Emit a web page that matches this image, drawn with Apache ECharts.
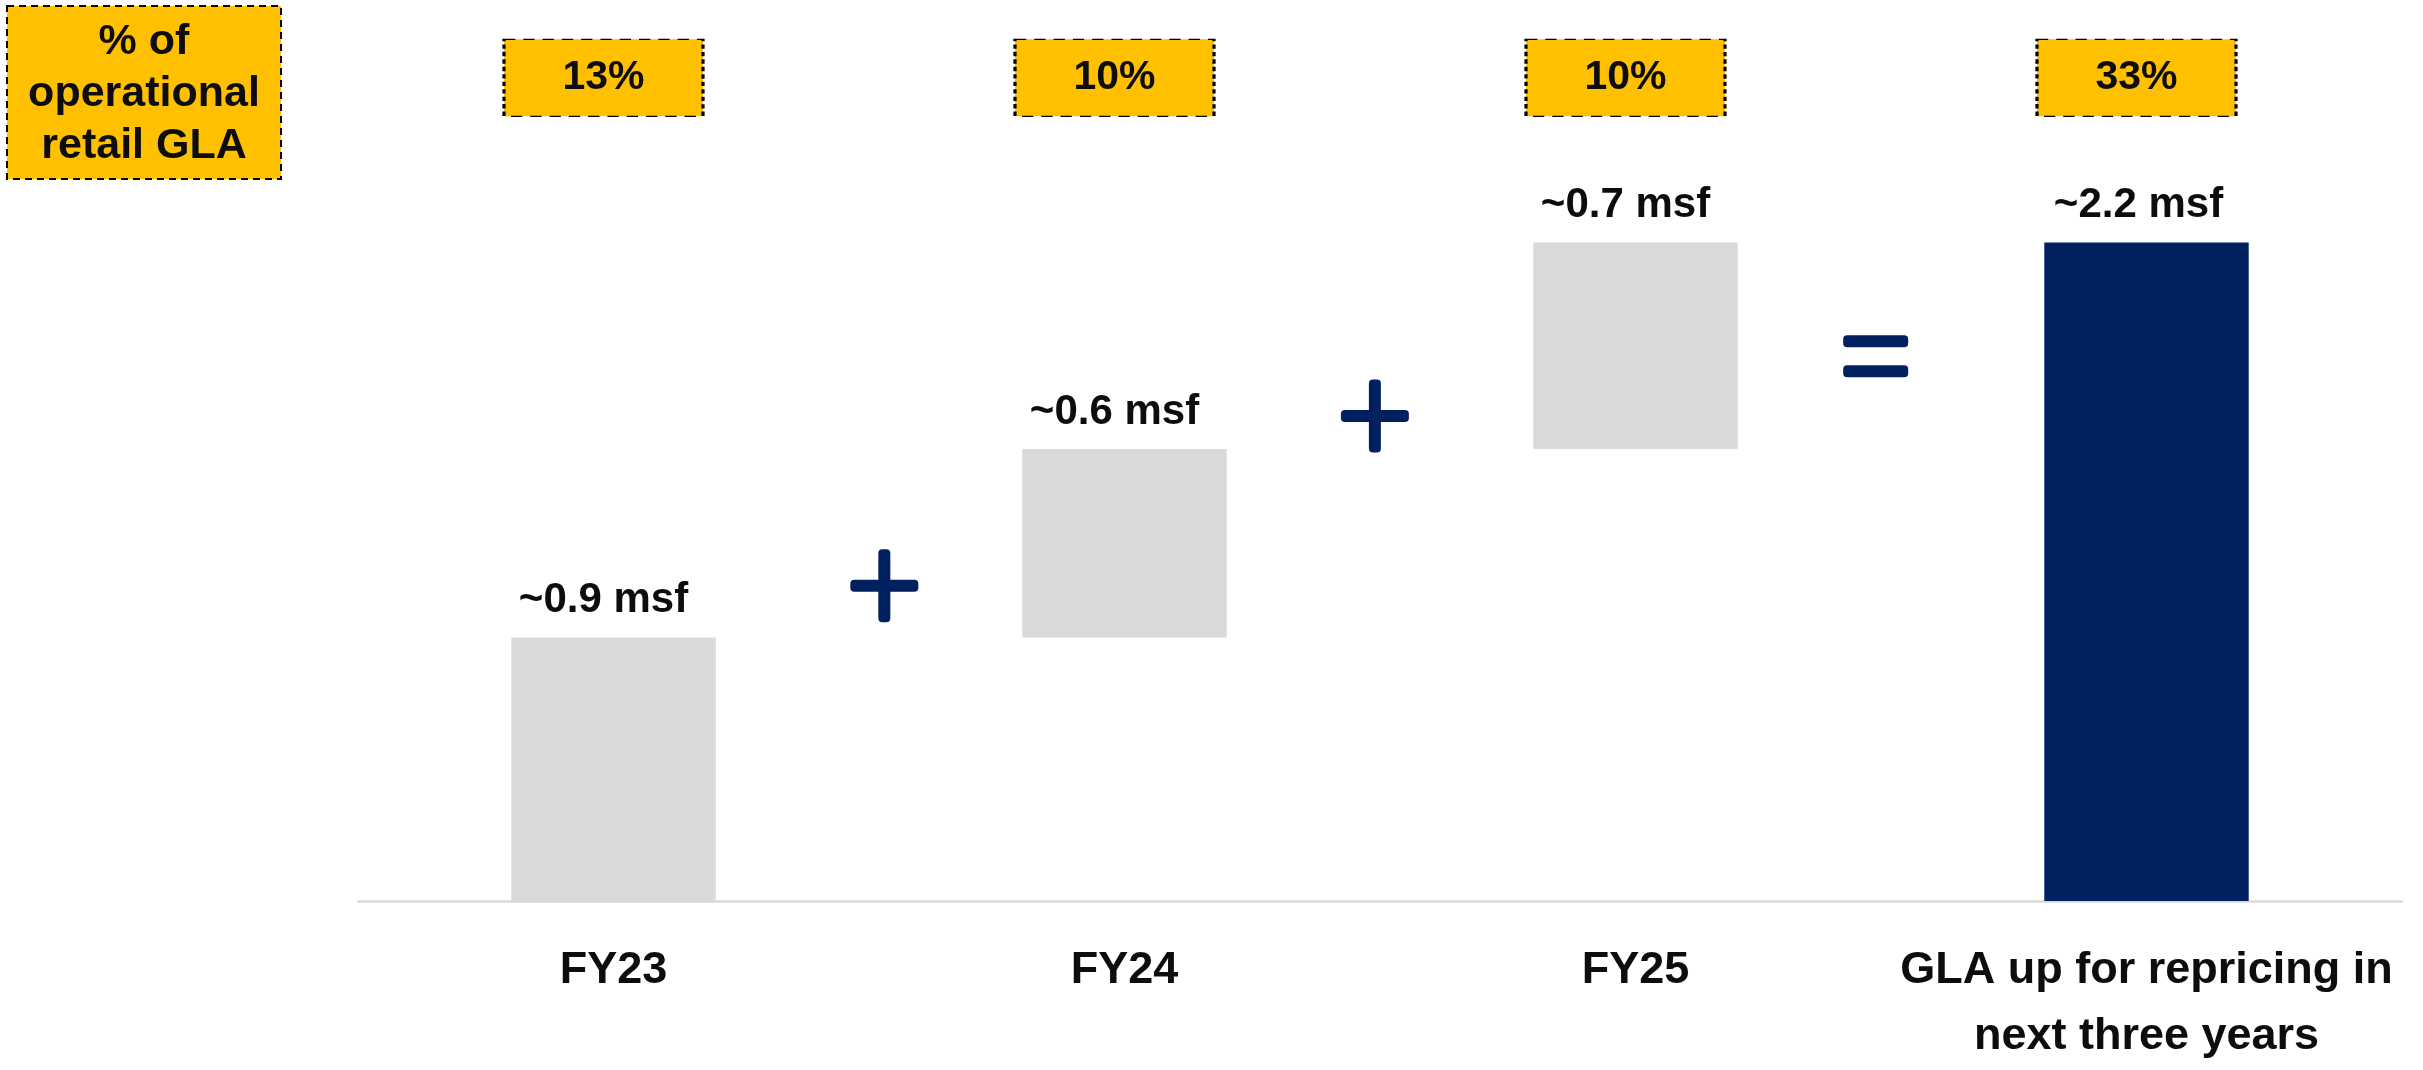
<!DOCTYPE html>
<html>
<head>
<meta charset="utf-8">
<script src="https://cdn.jsdelivr.net/npm/echarts@6/dist/echarts.min.js"></script>
<style>
  html, body { margin: 0; padding: 0; background: #ffffff; }
  #chart { width: 2423px; height: 1070px; }
</style>
</head>
<body>
<div id="chart"></div>
<script>
// ---- data ----
var categories = ['FY23', 'FY24', 'FY25', 'GLA up for repricing in\nnext three years'];
var stepValues = [0.88, 0.63, 0.69];          // msf
var totalValue = 2.2;                          // msf
var barLabels = ['~0.9 msf', '~0.6 msf', '~0.7 msf', '~2.2 msf'];
var shareLabels = ['13%', '10%', '10%', '33%'];
var shareRowLevel = 2.75;                      // y level of the % boxes
var plusMarks = [[0.53, 1.053], [1.49, 1.62]]; // between-bar operators
var equalsMarks = [[2.47, 1.82]];
var sideNote = '% of\noperational\nretail GLA';

// ---- derived series ----
var baseData = [];
var stepData = [];
var totalData = [];
var run = 0;
for (var i = 0; i < categories.length; i++) {
  if (i < stepValues.length) {
    baseData.push(run);
    stepData.push(stepValues[i]);
    totalData.push('-');
    run += stepValues[i];
  } else {
    baseData.push(0);
    stepData.push('-');
    totalData.push(totalValue);
  }
}
var shareData = categories.map(function (c, i) { return [i, shareRowLevel]; });

var FONT = '"Liberation Sans", Arial, sans-serif';
var NAVY = '#002060';
var GRAY = '#D9D9D9';
var GOLD = '#FFC000';

var PLUS_PATH = 'path://M28,4 Q28,0 32,0 H36 Q40,0 40,4 V30.5 H64 Q68,30.5 68,34.5 V38.5 Q68,42.5 64,42.5 H40 V69 Q40,73 36,73 H32 Q28,73 28,69 V42.5 H4 Q0,42.5 0,38.5 V34.5 Q0,30.5 4,30.5 H28 Z';
var EQUALS_PATH = 'path://M4,0 H61 Q65,0 65,4 V8 Q65,12 61,12 H4 Q0,12 0,8 V4 Q0,0 4,0 Z M4,30 H61 Q65,30 65,34 V38 Q65,42 61,42 H4 Q0,42 0,38 V34 Q0,30 4,30 Z';

var chart = echarts.init(document.getElementById('chart'), null, { renderer: 'canvas' });
chart.setOption({
  backgroundColor: '#ffffff',
  animation: false,
  textStyle: { fontFamily: FONT },
  grid: { left: 358, right: 21, top: 3, bottom: 158, containLabel: false },
  xAxis: [
    {
      type: 'category',
      data: categories,
      axisLine: { show: true, lineStyle: { color: '#D9D9D9', width: 2.5 } },
      axisTick: { show: false },
      splitLine: { show: false },
      axisLabel: {
        interval: 0,
        margin: 37,
        color: '#0d0d0d',
        fontFamily: FONT,
        fontWeight: 'bold',
        fontSize: 45,
        lineHeight: 66,
        align: 'center'
      }
    },
    { type: 'value', min: -0.5, max: 3.5, show: false }
  ],
  yAxis: {
    type: 'value', min: 0, max: 3, show: false,
    splitLine: { show: false }
  },
  series: [
    {
      name: 'base', type: 'bar', stack: 'w', barWidth: '40%',
      data: baseData,
      itemStyle: { color: 'transparent' },
      emphasis: { disabled: true },
      silent: true
    },
    {
      name: 'step', type: 'bar', stack: 'w', barWidth: '40%',
      data: stepData,
      itemStyle: { color: GRAY },
      label: {
        show: true, position: 'top', distance: 16, offset: [-10, 0],
        fontFamily: FONT, fontWeight: 'bold', fontSize: 42, lineHeight: 42,
        color: '#0d0d0d',
        formatter: function (p) { return barLabels[p.dataIndex]; }
      }
    },
    {
      name: 'total', type: 'bar', stack: 'w', barWidth: '40%',
      data: totalData,
      itemStyle: { color: NAVY },
      label: {
        show: true, position: 'top', distance: 16, offset: [-8, 0],
        fontFamily: FONT, fontWeight: 'bold', fontSize: 42, lineHeight: 42,
        color: '#0d0d0d',
        formatter: function (p) { return barLabels[p.dataIndex]; }
      }
    },
    {
      name: 'share', type: 'scatter',
      xAxisIndex: 0,
      data: shareData,
      symbol: 'rect',
      symbolSize: [199, 77],
      symbolOffset: [-10, 0],
      itemStyle: {
        color: GOLD, opacity: 1, borderColor: '#000', borderWidth: 2,
        borderType: [7, 5]
      },
      label: {
        show: true, position: 'inside',
        fontFamily: FONT, fontWeight: 'bold', fontSize: 41, color: '#0d0d0d',
        formatter: function (p) { return shareLabels[p.dataIndex]; }
      },
      emphasis: { disabled: true },
      silent: true,
      z: 5
    },
    {
      name: 'plus', type: 'scatter',
      xAxisIndex: 1,
      data: plusMarks,
      symbol: PLUS_PATH,
      symbolSize: [68, 73],
      itemStyle: { color: NAVY, opacity: 1 },
      emphasis: { disabled: true },
      silent: true
    },
    {
      name: 'equals', type: 'scatter',
      xAxisIndex: 1,
      data: equalsMarks,
      symbol: EQUALS_PATH,
      symbolSize: [65, 42],
      itemStyle: { color: NAVY, opacity: 1 },
      emphasis: { disabled: true },
      silent: true
    }
  ],
  graphic: [
    {
      type: 'group', left: 6, top: 5,
      children: [
        {
          type: 'rect',
          shape: { x: 0, y: 0, width: 274, height: 173 },
          style: { fill: GOLD, stroke: '#000', lineWidth: 2, lineDash: [7, 5] }
        },
        {
          type: 'text',
          x: 137, y: 88,
          style: {
            text: sideNote,
            fontFamily: FONT, fontWeight: 'bold', fontSize: 43, lineHeight: 52,
            fill: '#0d0d0d', align: 'center', verticalAlign: 'middle'
          }
        }
      ]
    }
  ]
});
</script>
</body>
</html>
